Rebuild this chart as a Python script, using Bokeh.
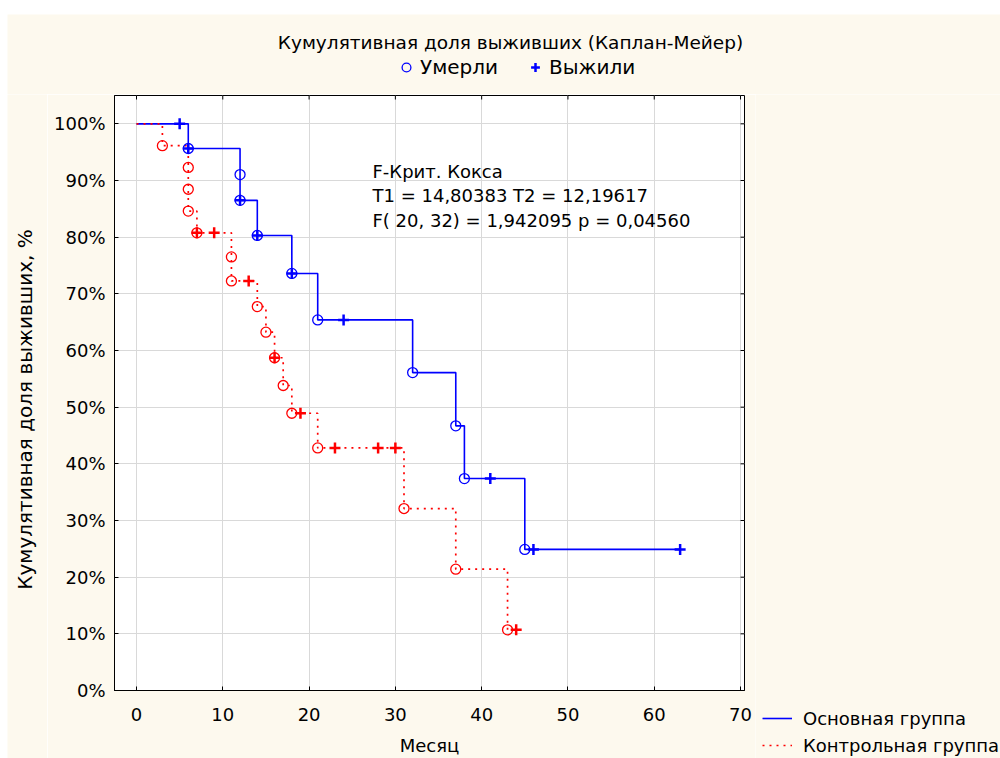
import math

from bokeh.plotting import figure
from bokeh.layouts import column, row
from bokeh.models import (Range1d, FixedTicker, PrintfTickFormatter, Label, Legend, LegendItem)
from bokeh.embed import file_html
from bokeh.resources import INLINE

# ---- Kaplan-Meier estimates (survival, %) ----
# Основная группа
main_death_t = [6, 12, 12, 14, 18, 21, 32, 37, 38, 45]
main_death_s = [95.65, 91.05, 86.50, 80.30, 73.60, 65.40, 56.10, 46.70, 37.40, 24.90]
main_cens_t = [5, 6, 12, 14, 18, 24, 41, 46, 63]
main_cens_s = [100.0, 95.65, 86.50, 80.30, 73.60, 65.40, 37.40, 24.90, 24.90]
main_last_t = 63

# Контрольная группа
ctrl_death_t = [3, 6, 6, 6, 7, 11, 11, 14, 15, 16, 17, 18, 21, 31, 37, 43]
ctrl_death_s = [96.15, 92.30, 88.46, 84.60, 80.77, 76.52, 72.27, 67.75, 63.23,
                58.72, 53.82, 48.93, 42.81, 32.11, 21.41, 10.70]
ctrl_cens_t = [7, 9, 13, 16, 19, 23, 28, 30, 44]
ctrl_cens_s = [80.77, 80.77, 72.27, 58.72, 48.93, 42.81, 42.81, 42.81, 10.70]
ctrl_last_t = 44

x_ticks = [0, 10, 20, 30, 40, 50, 60, 70]
y_ticks = [0, 10, 20, 30, 40, 50, 60, 70, 80, 90, 100]

title_text = "Кумулятивная доля выживших (Каплан-Мейер)"
x_title = "Месяц"
y_title = "Кумулятивная доля выживших, %"
stats_lines = ["F-Крит. Кокса",
               "T1 = 14,80383 T2 = 12,19617",
               "F( 20, 32) = 1,942095 p = 0,04560"]

FONT = "DejaVu Sans"
FS = "18px"
BG = "#FDF9EE"
BLUE = "#0000FF"
RED = "#FF0000"
GRID = "#D9D9D9"

MAIN_LINE = dict(line_color=BLUE, line_width=1.6)
CTRL_LINE = dict(line_color=RED, line_width=1.7, line_dash="2 5")
CIRCLE = dict(marker="circle", size=10, fill_color=None, line_width=1.3)
CROSS = dict(marker="cross", size=11, line_width=2.5)
NAN = float("nan")


def km_path(death_t, death_s, last_t):
    """Step path of a Kaplan-Meier curve starting at 100 %."""
    xs, ys = [0], [100.0]
    level = 100.0
    for t, s in zip(death_t, death_s):
        xs += [t, t]
        ys += [level, s]
        level = s
    xs.append(last_t)
    ys.append(level)
    return xs, ys


def panel(width, height, flip_y=False):
    """Plain beige panel whose frame fills the whole figure (pixel coordinates)."""
    yr = Range1d(height, 0) if flip_y else Range1d(0, height)
    fig = figure(width=width, height=height, x_range=Range1d(0, width), y_range=yr,
                 x_axis_type=None, y_axis_type=None, output_backend="svg",
                 toolbar_location=None, min_border=0, background_fill_color=BG,
                 border_fill_color=BG, outline_line_color=None)
    fig.grid.visible = False
    if "frame_align" in fig.properties():
        fig.frame_align = False
    return fig


# ---- layout sizes ----
TOTAL_W = 993
HEAD_H = 80
BODY_H = 664
STRIP_W = 40
MAIN_W = 708
SIDE_W = TOTAL_W - STRIP_W - MAIN_W

# ---- main chart ----
X0, X1 = -2.55, 70.46
Y0, Y1 = 0, 105
FR_LEFT, FR_TOP, FR_W, FR_H = 67, 1, 630, 597


def to_data(fx, fy):
    """Position inside the main figure (px from its top-left) -> data coordinates."""
    x = X0 + (fx - FR_LEFT) * (X1 - X0) / FR_W
    y = Y1 - (fy - FR_TOP) * (Y1 - Y0) / FR_H
    return x, y


p = figure(width=MAIN_W, height=BODY_H,
           x_range=Range1d(X0, X1), y_range=Range1d(Y0, Y1),
           output_backend="svg", toolbar_location=None,
           min_border_left=FR_LEFT, min_border_top=FR_TOP,
           min_border_right=MAIN_W - FR_LEFT - FR_W,
           min_border_bottom=BODY_H - FR_TOP - FR_H,
           background_fill_color="white", border_fill_color=BG,
           outline_line_color="black", outline_line_width=1)
if "frame_align" in p.properties():
    p.frame_align = False

xa = p.xaxis[0]
xa.ticker = FixedTicker(ticks=x_ticks)
xa.axis_label = x_title
ya = p.yaxis[0]
ya.ticker = FixedTicker(ticks=y_ticks)
ya.formatter = PrintfTickFormatter(format="%d%%")
for ax in (xa, ya):
    ax.major_tick_in = 4
    ax.major_tick_out = 0
    ax.minor_tick_line_color = None
    ax.axis_line_color = "black"
    ax.major_tick_line_color = "black"
    ax.major_label_text_font = FONT
    ax.major_label_text_font_size = FS
    ax.major_label_text_color = "black"
    ax.axis_label_text_font = FONT
    ax.axis_label_text_font_style = "normal"
    ax.axis_label_text_color = "black"
    ax.axis_label_text_font_size = FS
xa.major_label_standoff = 17
xa.axis_label_standoff = 11
ya.major_label_standoff = 9

p.xgrid.ticker = FixedTicker(ticks=x_ticks)
p.ygrid.ticker = FixedTicker(ticks=y_ticks)
p.grid.grid_line_color = GRID
p.grid.grid_line_width = 1

# inward ticks on the top and right edges of the frame
p.scatter(x_ticks, [Y1] * len(x_ticks), marker="dash", angle=math.pi / 2, size=8,
          line_color="black", line_width=1)
p.scatter([X1] * len(y_ticks), y_ticks, marker="dash", size=8,
          line_color="black", line_width=1)

# curves
mx, my = km_path(main_death_t, main_death_s, main_last_t)
cx, cy = km_path(ctrl_death_t, ctrl_death_s, ctrl_last_t)
p.line(mx, my, **MAIN_LINE)
p.line(cx, cy, **CTRL_LINE)

p.scatter(ctrl_death_t, ctrl_death_s, line_color=RED, **CIRCLE)
p.scatter(ctrl_cens_t, ctrl_cens_s, line_color=RED, **CROSS)
p.scatter(main_death_t, main_death_s, line_color=BLUE, **CIRCLE)
p.scatter(main_cens_t, main_cens_s, line_color=BLUE, **CROSS)

# statistics text
for i, line in enumerate(stats_lines):
    x, y = to_data(325, 77 + i * 24.5)
    p.add_layout(Label(x=x, y=y, text=line, text_font=FONT, text_font_size=FS,
                       text_align="left", text_baseline="middle", text_color="black"))

# ---- y title strip ----
strip = panel(STRIP_W, BODY_H, flip_y=True)
strip.add_layout(Label(x=17, y=315, text=y_title, angle=math.pi / 2,
                       text_font=FONT, text_font_size="20px", text_align="center",
                       text_baseline="middle", text_color="black"))

# ---- header: title and marker legend ----
head = panel(TOTAL_W, HEAD_H, flip_y=True)
head.add_layout(Label(x=503, y=28, text=title_text, text_font=FONT, text_font_size="18.5px",
                      text_align="center", text_baseline="middle", text_color="black"))
# legend-only keys (no visible points)
died_key = head.scatter([NAN], [NAN], line_color=BLUE, **CIRCLE)
cens_key = head.scatter([NAN], [NAN], line_color=BLUE, **CROSS)
head.add_layout(Legend(items=[LegendItem(label="Умерли", renderers=[died_key]),
                              LegendItem(label="Выжили", renderers=[cens_key])],
                       orientation="horizontal", location=(388, 15),
                       glyph_width=22, glyph_height=22, label_standoff=3, spacing=26,
                       padding=0, margin=0, background_fill_alpha=0, border_line_color=None,
                       label_text_font=FONT, label_text_font_size="20px",
                       label_text_color="black"))

# ---- group legend at the lower right ----
side = panel(SIDE_W, BODY_H)
main_key = side.line([NAN], [NAN], **MAIN_LINE)
ctrl_key = side.line([NAN], [NAN], **CTRL_LINE)
side.add_layout(Legend(items=[LegendItem(label="Основная группа", renderers=[main_key]),
                              LegendItem(label="Контрольная группа", renderers=[ctrl_key])],
                       orientation="vertical", location=(7, 1),
                       glyph_width=30, glyph_height=24, label_standoff=11, spacing=3,
                       padding=0, margin=0, background_fill_alpha=0, border_line_color=None,
                       label_text_font=FONT, label_text_font_size=FS,
                       label_text_color="black"))

page = column(head, row(strip, p, side, spacing=0), spacing=0)
page.margin = (14, 0, 0, 7)

open("out.html", "w").write(file_html(page, INLINE))
